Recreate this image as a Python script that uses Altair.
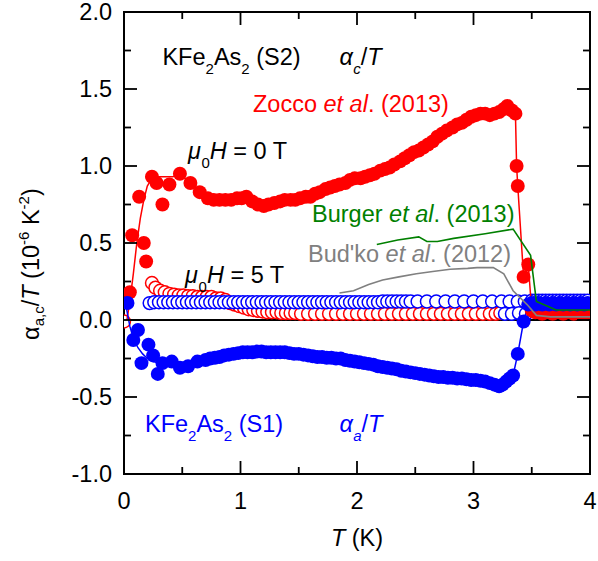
import altair as alt
import pandas as pd

FONT = "Liberation Sans"
RED, BLUE, GREEN, GRAY = "#ff0000", "#0000ff", "#008000", "#808080"
W, H = 466, 462

# alpha_c/T, 0 T (filled red)
c0_T = [0.05, 0.07, 0.13, 0.17, 0.19, 0.24, 0.28, 0.33, 0.39, 0.48,
        0.57, 0.65, 0.72, 0.77, 0.82, 0.87, 0.92, 0.97, 1.01, 1.05,
        1.10, 1.15, 1.20, 1.24, 1.29, 1.34, 1.38, 1.43, 1.47, 1.51,
        1.56, 1.60, 1.64, 1.68, 1.73, 1.77, 1.81, 1.85, 1.90, 1.94,
        1.98, 2.03, 2.07, 2.11, 2.15, 2.20, 2.24, 2.28, 2.32, 2.37,
        2.41, 2.45, 2.49, 2.53, 2.57, 2.61, 2.65, 2.69, 2.73, 2.77,
        2.82, 2.86, 2.90, 2.94, 2.98, 3.02, 3.06, 3.10, 3.14, 3.18,
        3.22, 3.26, 3.29, 3.33, 3.36, 3.37, 3.38, 3.43, 3.47, 3.50,
        3.53, 3.56, 3.59, 3.62, 3.65, 3.68, 3.71, 3.74, 3.77, 3.80,
        3.83, 3.86, 3.89, 3.92, 3.95, 3.98]
c0_a = [0.18, 0.55, 0.80, 0.50, 0.38, 0.93, 0.89, 0.75, 0.88, 0.95,
        0.89, 0.83, 0.79, 0.78, 0.78, 0.78, 0.78, 0.79, 0.79, 0.80,
        0.77, 0.75, 0.74, 0.75, 0.76, 0.77, 0.78, 0.78, 0.78, 0.79,
        0.80, 0.80, 0.82, 0.83, 0.85, 0.86, 0.87, 0.88, 0.89, 0.91,
        0.92, 0.92, 0.93, 0.94, 0.95, 0.97, 0.98, 0.99, 1.01, 1.03,
        1.05, 1.07, 1.09, 1.10, 1.12, 1.14, 1.16, 1.19, 1.21, 1.23,
        1.25, 1.27, 1.28, 1.30, 1.32, 1.33, 1.34, 1.34, 1.33, 1.34,
        1.35, 1.37, 1.39, 1.36, 1.34, 1.00, 0.87, 0.28, 0.36, 0.06,
        0.05, 0.05, 0.04, 0.05, 0.05, 0.04, 0.05, 0.05, 0.04, 0.05,
        0.05, 0.04, 0.05, 0.05, 0.04, 0.05]
# smooth low-temperature fit through the 0 T c-axis data
c0_fit_T = [0.025, 0.05, 0.08, 0.11, 0.14, 0.17, 0.20, 0.24, 0.30, 0.36, 0.42]
c0_fit_a = [0.0, 0.12, 0.30, 0.50, 0.66, 0.78, 0.87, 0.92, 0.93, 0.93, 0.93]

# alpha_a/T, 0 T (filled blue)
a0_T = [0.03, 0.08, 0.12, 0.15, 0.21, 0.25, 0.29, 0.33, 0.41, 0.48,
        0.55, 0.63, 0.70, 0.74, 0.78, 0.82, 0.86, 0.90, 0.94, 0.98,
        1.02, 1.06, 1.10, 1.14, 1.18, 1.22, 1.26, 1.30, 1.34, 1.38,
        1.42, 1.46, 1.50, 1.54, 1.58, 1.62, 1.66, 1.70, 1.74, 1.78,
        1.82, 1.86, 1.90, 1.94, 1.98, 2.02, 2.06, 2.10, 2.14, 2.18,
        2.22, 2.26, 2.30, 2.34, 2.38, 2.42, 2.46, 2.50, 2.54, 2.58,
        2.62, 2.66, 2.70, 2.74, 2.78, 2.82, 2.86, 2.90, 2.94, 2.98,
        3.02, 3.06, 3.10, 3.14, 3.18, 3.22, 3.25, 3.28, 3.31, 3.34,
        3.38, 3.43, 3.47, 3.50, 3.53, 3.56, 3.59, 3.62, 3.65, 3.68,
        3.71, 3.74, 3.77, 3.80, 3.83, 3.86, 3.89, 3.92, 3.95, 3.98]
a0_a = [0.11, -0.13, -0.065, -0.28, -0.16, -0.23, -0.35, -0.28, -0.27, -0.31,
        -0.30, -0.27, -0.26, -0.25, -0.245, -0.24, -0.23, -0.225, -0.22, -0.215,
        -0.21, -0.21, -0.21, -0.205, -0.205, -0.21, -0.21, -0.21, -0.21, -0.21,
        -0.215, -0.22, -0.22, -0.225, -0.23, -0.235, -0.24, -0.24, -0.245, -0.245,
        -0.25, -0.25, -0.26, -0.265, -0.27, -0.275, -0.28, -0.285, -0.29, -0.30,
        -0.305, -0.31, -0.315, -0.32, -0.33, -0.335, -0.34, -0.345, -0.35, -0.355,
        -0.36, -0.365, -0.37, -0.37, -0.375, -0.375, -0.38, -0.38, -0.385, -0.39,
        -0.39, -0.395, -0.40, -0.41, -0.42, -0.43, -0.42, -0.40, -0.38, -0.36,
        -0.22, -0.01, 0.10, 0.11, 0.10, 0.11, 0.10, 0.11, 0.10, 0.11,
        0.10, 0.11, 0.10, 0.11, 0.10, 0.11, 0.10, 0.11, 0.10, 0.11]
a0_fit_T = [0.02, 0.05, 0.08, 0.12, 0.16, 0.20, 0.25, 0.30]
a0_fit_a = [0.08, -0.04, -0.12, -0.18, -0.22, -0.25, -0.27, -0.28]

# alpha_c/T, 5 T (open red)
c5_T = [0.00, 0.24, 0.27, 0.31, 0.35, 0.39, 0.43, 0.47, 0.51, 0.55,
        0.59, 0.63, 0.67, 0.71, 0.75, 0.79, 0.83, 0.87, 0.91, 0.95,
        0.99, 1.03, 1.07, 1.11, 1.15, 1.19, 1.23, 1.27, 1.31, 1.35,
        1.39, 1.43, 1.47, 1.52, 1.58, 1.64, 1.70, 1.76, 1.82, 1.88,
        1.94, 2.00, 2.06, 2.12, 2.18, 2.24, 2.30, 2.36, 2.42, 2.48,
        2.54, 2.60, 2.66, 2.72, 2.78, 2.84, 2.90, 2.96, 3.02, 3.08,
        3.14, 3.19, 3.23]
c5_a = [-0.01, 0.24, 0.21, 0.19, 0.18, 0.17, 0.165, 0.16, 0.16, 0.155,
        0.155, 0.15, 0.15, 0.15, 0.15, 0.14, 0.14, 0.13, 0.11, 0.10,
        0.09, 0.08, 0.07, 0.065, 0.06, 0.055, 0.05, 0.05, 0.05, 0.045,
        0.045, 0.045, 0.045, 0.04, 0.04, 0.04, 0.04, 0.04, 0.04, 0.04,
        0.04, 0.04, 0.04, 0.04, 0.04, 0.04, 0.04, 0.04, 0.04, 0.04,
        0.04, 0.04, 0.04, 0.04, 0.04, 0.04, 0.04, 0.04, 0.04, 0.04,
        0.04, 0.04, 0.045]

# alpha_a/T, 5 T (open blue)
a5_T = [0.22, 0.26, 0.30, 0.34, 0.38, 0.42, 0.46, 0.50, 0.54, 0.58,
        0.62, 0.66, 0.70, 0.74, 0.78, 0.82, 0.86, 0.90, 0.94, 0.98,
        1.02, 1.06, 1.10, 1.14, 1.18, 1.22, 1.26, 1.30, 1.34, 1.38,
        1.42, 1.46, 1.50, 1.54, 1.58, 1.62, 1.66, 1.70, 1.74, 1.78,
        1.82, 1.86, 1.90, 1.94, 1.98, 2.02, 2.06, 2.10, 2.14, 2.18,
        2.22, 2.26, 2.30, 2.34, 2.38, 2.42, 2.46, 2.52, 2.60, 2.68,
        2.76, 2.84, 2.92, 3.00, 3.08, 3.16, 3.24, 3.31, 3.38, 3.44,
        3.27, 3.33, 3.39, 3.45, 3.50, 3.53, 3.56, 3.59, 3.62, 3.65,
        3.68, 3.71, 3.74, 3.77, 3.80, 3.83, 3.86, 3.89, 3.92, 3.95,
        3.98]
a5_a = [0.11, 0.115, 0.115, 0.115, 0.115, 0.115, 0.115, 0.115, 0.115, 0.115,
        0.115, 0.115, 0.115, 0.115, 0.115, 0.115, 0.115, 0.115, 0.115, 0.115,
        0.115, 0.115, 0.115, 0.115, 0.115, 0.115, 0.115, 0.115, 0.115, 0.115,
        0.115, 0.115, 0.115, 0.115, 0.115, 0.115, 0.115, 0.115, 0.115, 0.115,
        0.115, 0.115, 0.115, 0.115, 0.115, 0.115, 0.115, 0.115, 0.115, 0.115,
        0.12, 0.12, 0.12, 0.12, 0.12, 0.12, 0.12, 0.12, 0.12, 0.12,
        0.12, 0.12, 0.12, 0.12, 0.12, 0.12, 0.12, 0.12, 0.12, 0.12,
        0.04, 0.04, 0.045, 0.04, 0.125, 0.125, 0.125, 0.125, 0.125, 0.125,
        0.125, 0.125, 0.125, 0.125, 0.125, 0.125, 0.125, 0.125, 0.125, 0.125,
        0.125]

# Burger et al. (2013)
burger_T = [2.17, 2.35, 2.53, 2.60, 2.69, 2.83, 3.10, 3.34, 3.49, 3.54, 3.71, 4.00]
burger_a = [0.49, 0.52, 0.54, 0.51, 0.51, 0.53, 0.56, 0.59, 0.42, 0.12, 0.065, 0.065]

# Bud'ko et al. (2012)
budko_T = [1.85, 1.97, 2.10, 2.22, 2.36, 2.51, 2.65, 2.80, 2.95, 3.03,
           3.17, 3.26, 3.34, 3.46, 3.54, 3.66, 4.00]
budko_a = [0.175, 0.19, 0.23, 0.26, 0.28, 0.30, 0.315, 0.33, 0.335, 0.34,
           0.34, 0.30, 0.19, 0.10, 0.03, 0.02, 0.02]

x_major = [0, 1, 2, 3, 4]
x_tick_labels = ["0", "1", "2", "3", "4"]
x_minor = [0.5, 1.5, 2.5, 3.5]
y_major = [-1.0, -0.5, 0.0, 0.5, 1.0, 1.5, 2.0]
y_tick_labels = ["-1.0", "-0.5", "0.0", "0.5", "1.0", "1.5", "2.0"]
y_minor = [-0.75, -0.25, 0.25, 0.75, 1.25, 1.75]

XS = alt.Scale(domain=[0, 4], nice=False, zero=False)
YS = alt.Scale(domain=[-1, 2], nice=False, zero=False)


def xq(field):
    return alt.X(field, type="quantitative", scale=XS, axis=None)


def yq(field):
    return alt.Y(field, type="quantitative", scale=YS, axis=None)


def frame(T, a):
    return pd.DataFrame({"T": T, "a": a})


def points(df, color, filled, size):
    mark = alt.Chart(df).mark_point(
        shape="circle", filled=True, size=size, clip=True,
        fill=color if filled else "white", stroke=color,
        strokeWidth=0 if filled else 1.5, opacity=1,
    )
    return mark.encode(x=xq("T"), y=yq("a"))


def curve(df, color, width=1.5):
    return alt.Chart(df).mark_line(color=color, strokeWidth=width, clip=True).encode(
        x=xq("T"), y=yq("a"), order="i:Q")


def with_index(df):
    df = df.copy()
    df["i"] = range(len(df))
    return df


# advance widths (per 1000 em) of the sans face, for laying out rich text
ADV = {"K": 667, "F": 611, "e": 556, "A": 667, "s": 500, " ": 278, "(": 333, ")": 333,
       "S": 667, "Z": 611, "o": 556, "c": 500, "t": 278, "a": 556, "l": 222, ".": 278,
       "B": 667, "u": 556, "r": 333, "g": 556, "d": 556, "'": 191, "k": 500, "μ": 576,
       "H": 722, "=": 584, "T": 611, "α": 580, "/": 278, ",": 278, "-": 333}
SIZE, SMALL = 23.5, 15


def adv(s, size):
    return sum(ADV.get(ch, 556) for ch in s) * size / 1000


def rich(parts, color, x=None, y=None, px=None, py=None, angle=0, sub_dy=9, sup_dy=-10,
         center=False):
    """Lay out styled fragments one after another along the baseline.
    kinds: n normal, i italic, b subscript, bi italic subscript, p superscript."""
    def fsize(k):
        return SMALL if k in ("b", "bi", "p") else SIZE

    total = sum(adv(t, fsize(k)) for t, k in parts)
    off = -total / 2 if center else 0.0
    layers = []
    for txt, kind in parts:
        fs = fsize(kind)
        core = txt.strip(" ")
        lead = len(txt) - len(txt.lstrip(" "))
        trail = len(txt) - len(txt.rstrip(" "))
        off += adv(" " * lead, fs)
        dy = sub_dy if kind in ("b", "bi") else (sup_dy if kind == "p" else 0)
        style = "italic" if kind in ("i", "bi") else "normal"
        enc = {
            "x": alt.XDatum(x, type="quantitative", scale=XS, axis=None) if x is not None else alt.value(px),
            "y": alt.YDatum(y, type="quantitative", scale=YS, axis=None) if y is not None else alt.value(py),
            "text": alt.Text("s:N"),
        }
        layers.append(
            alt.Chart(pd.DataFrame({"s": [core]})).mark_text(
                align="left", baseline="alphabetic", font=FONT, fontSize=fs,
                fontStyle=style, color=color, dx=off, dy=dy, angle=angle,
            ).encode(**enc)
        )
        off += adv(core, fs) + adv(" " * trail, fs)
    return layers


def tick_rules(vals, side, length):
    df = pd.DataFrame({"v": vals})
    base = alt.Chart(df).mark_rule(color="black", strokeWidth=1.8)
    if side == "bottom":
        return base.encode(x=xq("v"), y=alt.value(H), y2=alt.value(H - length))
    if side == "top":
        return base.encode(x=xq("v"), y=alt.value(0), y2=alt.value(length))
    if side == "left":
        return base.encode(y=yq("v"), x=alt.value(0), x2=alt.value(length))
    return base.encode(y=yq("v"), x=alt.value(W), x2=alt.value(W - length))


x_labels = alt.Chart(pd.DataFrame({"v": x_major, "s": x_tick_labels})).mark_text(
    align="center", baseline="alphabetic", font=FONT, fontSize=23.5, color="black"
).encode(x=xq("v"), y=alt.value(H + 35), text="s:N")

y_labels = alt.Chart(pd.DataFrame({"v": y_major, "s": y_tick_labels})).mark_text(
    align="right", baseline="alphabetic", font=FONT, fontSize=23.5, color="black", dy=8
).encode(y=yq("v"), x=alt.value(-12), text="s:N")

zero_line = alt.Chart(pd.DataFrame({"a": [0.0]})).mark_rule(color="black", strokeWidth=2).encode(
    y=yq("a"), x=alt.value(0), x2=alt.value(W))

c0 = frame(c0_T, c0_a)
a0 = frame(a0_T, a0_a)
c0_line = with_index(pd.concat([frame(c0_fit_T, c0_fit_a), c0[c0["T"] >= 0.48]]))
a0_line = with_index(pd.concat([frame(a0_fit_T, a0_fit_a), a0[a0["T"] >= 0.33]]))

layers = [
    zero_line,
    points(frame(c5_T, c5_a), RED, False, 165),
    points(frame(a5_T, a5_a), BLUE, False, 165),
    curve(c0_line, RED),
    curve(a0_line, BLUE),
    points(c0, RED, True, 195),
    points(a0, BLUE, True, 195),
    curve(with_index(frame(burger_T, burger_a)), GREEN, 1.6),
    curve(with_index(frame(budko_T, budko_a)), GRAY, 1.6),
    x_labels,
    y_labels,
]
for vals, length in ((x_major, 13), (x_minor, 7)):
    layers += [tick_rules(vals, "bottom", length), tick_rules(vals, "top", length)]
for vals, length in ((y_major, 13), (y_minor, 7)):
    layers += [tick_rules(vals, "left", length), tick_rules(vals, "right", length)]

# annotations
layers += rich([("KFe", "n"), ("2", "b"), ("As", "n"), ("2", "b"), (" (S2)", "n")], "black", x=0.33, y=1.655)
layers += rich([("α", "i"), ("c", "bi"), ("/", "n"), ("T", "i")], "black", x=1.85, y=1.655)
layers += rich([("Zocco ", "n"), ("et al", "i"), (". (2013)", "n")], RED, x=1.107, y=1.351)
layers += rich([("μ", "i"), ("0", "b"), ("H", "i"), (" = 0 T", "n")], "black", x=0.549, y=1.045)
layers += rich([("Burger ", "n"), ("et al", "i"), (". (2013)", "n")], GREEN, x=1.614, y=0.636)
layers += rich([("Bud'ko ", "n"), ("et al", "i"), (". (2012)", "n")], GRAY, x=1.579, y=0.377)
layers += rich([("μ", "i"), ("0", "b"), ("H", "i"), (" = 5 T", "n")], "black", x=0.524, y=0.24)
layers += rich([("KFe", "n"), ("2", "b"), ("As", "n"), ("2", "b"), (" (S1)", "n")], BLUE, x=0.18, y=-0.727)
layers += rich([("α", "i"), ("a", "bi"), ("/", "n"), ("T", "i")], BLUE, x=1.85, y=-0.727)

# axis titles
layers += rich([("T", "i"), (" (K)", "n")], "black", x=2.0, py=H + 72, center=True)
layers += rich([("α", "n"), ("a,c", "b"), ("/", "n"), ("T", "i"), (" (10", "n"), ("-6", "p"),
                (" K", "n"), ("-2", "p"), (")", "n")], "black", px=-85, py=328, angle=270,
               sub_dy=5, sup_dy=-10)

chart = alt.layer(*layers).properties(
    width=W, height=H,
    autosize=alt.AutoSizeParams(type="none"),
    padding={"left": 124, "top": 12, "right": 8, "bottom": 87},
).configure_view(stroke="black", strokeWidth=2)

chart.save("out.html", embed_options={"renderer": "svg", "actions": False})
